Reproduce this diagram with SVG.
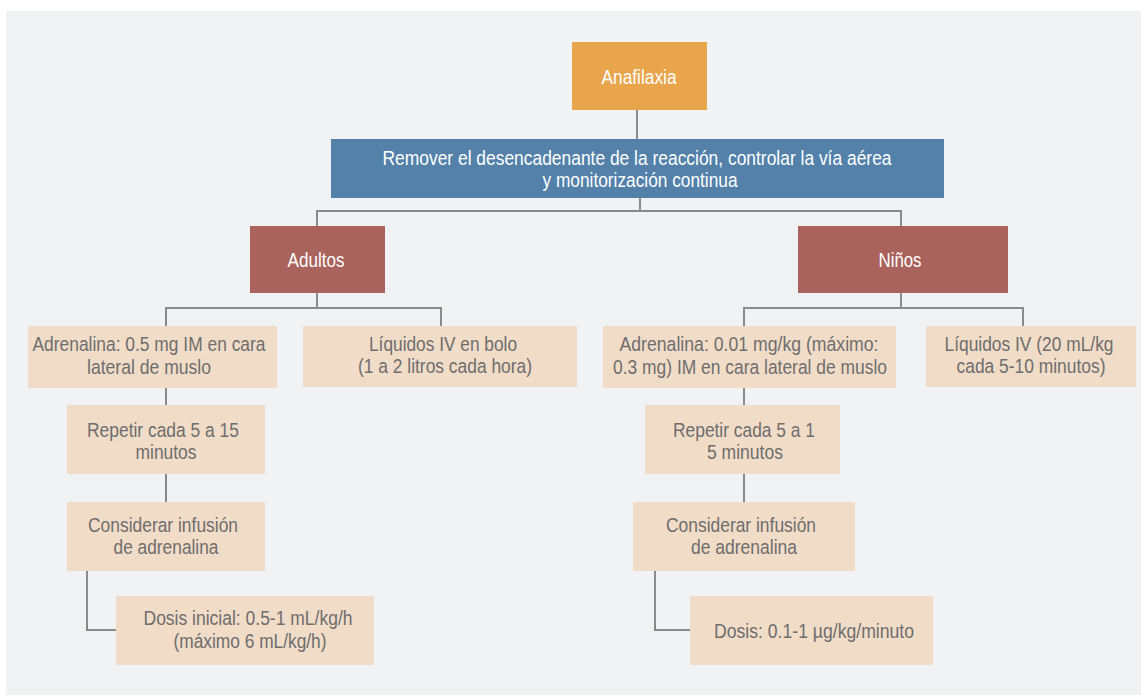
<svg xmlns="http://www.w3.org/2000/svg" width="1141" height="696" viewBox="0 0 1141 696">
<style>
text{font-family:"Liberation Sans",Arial,sans-serif;font-size:20.5px;text-anchor:middle}
.w{fill:#ffffff}
.g{fill:#6e6e6e}
.or{fill:#E8A54B}
.bl{fill:#5381AA}
.rd{fill:#AA625C}
.pc{fill:#F1DCC8}
.cn{fill:none;stroke:#8a8a8a;stroke-width:2}
</style>
<rect x="0" y="0" width="1141" height="696" fill="#ffffff"/>
<rect x="6" y="11" width="1135" height="684" fill="#F1F2F4"/>
<g id="connectors" class="cn">
<path d="M637,110V139"/>
<path d="M640,198V211M317,226V211H901V226"/>
<path d="M317,293V308M166,326V308H441V326"/>
<path d="M901,293V308M744,326V308H1023V326"/>
<path d="M166,388V405M166,474V502M87,571V630H116"/>
<path d="M744,388V405M744,474V502M655,571V630H690"/>
</g>
<g id="anafilaxia"><rect class="or" x="572" y="42" width="135" height="68"/><text class="w" x="639" y="84" textLength="75" lengthAdjust="spacingAndGlyphs">Anafilaxia</text></g>
<g id="remover"><rect class="bl" x="331" y="139" width="613" height="59"/><text class="w" x="637" y="165" textLength="509" lengthAdjust="spacingAndGlyphs">Remover el desencadenante de la reacción, controlar la vía aérea</text><text class="w" x="640" y="187" textLength="195" lengthAdjust="spacingAndGlyphs">y monitorización continua</text></g>
<g id="adultos"><rect class="rd" x="250" y="226" width="135" height="67"/><text class="w" x="316" y="267" textLength="57" lengthAdjust="spacingAndGlyphs">Adultos</text></g>
<g id="ninos"><rect class="rd" x="798" y="226" width="210" height="67"/><text class="w" x="900" y="267" textLength="43" lengthAdjust="spacingAndGlyphs">Niños</text></g>
<g id="adr-adultos"><rect class="pc" x="28" y="326" width="249" height="62"/><text class="g" x="149" y="351" textLength="233" lengthAdjust="spacingAndGlyphs">Adrenalina: 0.5 mg IM en cara</text><text class="g" x="149" y="374" textLength="124" lengthAdjust="spacingAndGlyphs">lateral de muslo</text></g>
<g id="liq-adultos"><rect class="pc" x="303" y="326" width="274" height="61"/><text class="g" x="443" y="351" textLength="148" lengthAdjust="spacingAndGlyphs">Líquidos IV en bolo</text><text class="g" x="445" y="373" textLength="174" lengthAdjust="spacingAndGlyphs">(1 a 2 litros cada hora)</text></g>
<g id="adr-ninos"><rect class="pc" x="603" y="326" width="293" height="62"/><text class="g" x="749" y="351" textLength="259" lengthAdjust="spacingAndGlyphs">Adrenalina: 0.01 mg/kg (máximo:</text><text class="g" x="750" y="374" textLength="274" lengthAdjust="spacingAndGlyphs">0.3 mg) IM en cara lateral de muslo</text></g>
<g id="liq-ninos"><rect class="pc" x="926" y="326" width="210" height="61"/><text class="g" x="1029" y="351" textLength="169" lengthAdjust="spacingAndGlyphs">Líquidos IV (20 mL/kg</text><text class="g" x="1031" y="373" textLength="149" lengthAdjust="spacingAndGlyphs">cada 5-10 minutos)</text></g>
<g id="rep-adultos"><rect class="pc" x="67" y="405" width="198" height="69"/><text class="g" x="163" y="437" textLength="152" lengthAdjust="spacingAndGlyphs">Repetir cada 5 a 15</text><text class="g" x="166" y="459" textLength="61" lengthAdjust="spacingAndGlyphs">minutos</text></g>
<g id="rep-ninos"><rect class="pc" x="645" y="405" width="195" height="69"/><text class="g" x="744" y="437" textLength="142" lengthAdjust="spacingAndGlyphs">Repetir cada 5 a 1</text><text class="g" x="745" y="459" textLength="76" lengthAdjust="spacingAndGlyphs">5 minutos</text></g>
<g id="inf-adultos"><rect class="pc" x="67" y="502" width="198" height="69"/><text class="g" x="163" y="532" textLength="150" lengthAdjust="spacingAndGlyphs">Considerar infusión</text><text class="g" x="166" y="554" textLength="105" lengthAdjust="spacingAndGlyphs">de adrenalina</text></g>
<g id="inf-ninos"><rect class="pc" x="633" y="502" width="222" height="69"/><text class="g" x="741" y="532" textLength="150" lengthAdjust="spacingAndGlyphs">Considerar infusión</text><text class="g" x="744" y="554" textLength="106" lengthAdjust="spacingAndGlyphs">de adrenalina</text></g>
<g id="dosis-adultos"><rect class="pc" x="116" y="596" width="258" height="69"/><text class="g" x="248" y="625" textLength="209" lengthAdjust="spacingAndGlyphs">Dosis inicial: 0.5-1 mL/kg/h</text><text class="g" x="250" y="648" textLength="153" lengthAdjust="spacingAndGlyphs">(máximo 6 mL/kg/h)</text></g>
<g id="dosis-ninos"><rect class="pc" x="690" y="596" width="243" height="69"/><text class="g" x="814" y="638" textLength="200" lengthAdjust="spacingAndGlyphs">Dosis: 0.1-1 µg/kg/minuto</text></g>
</svg>
